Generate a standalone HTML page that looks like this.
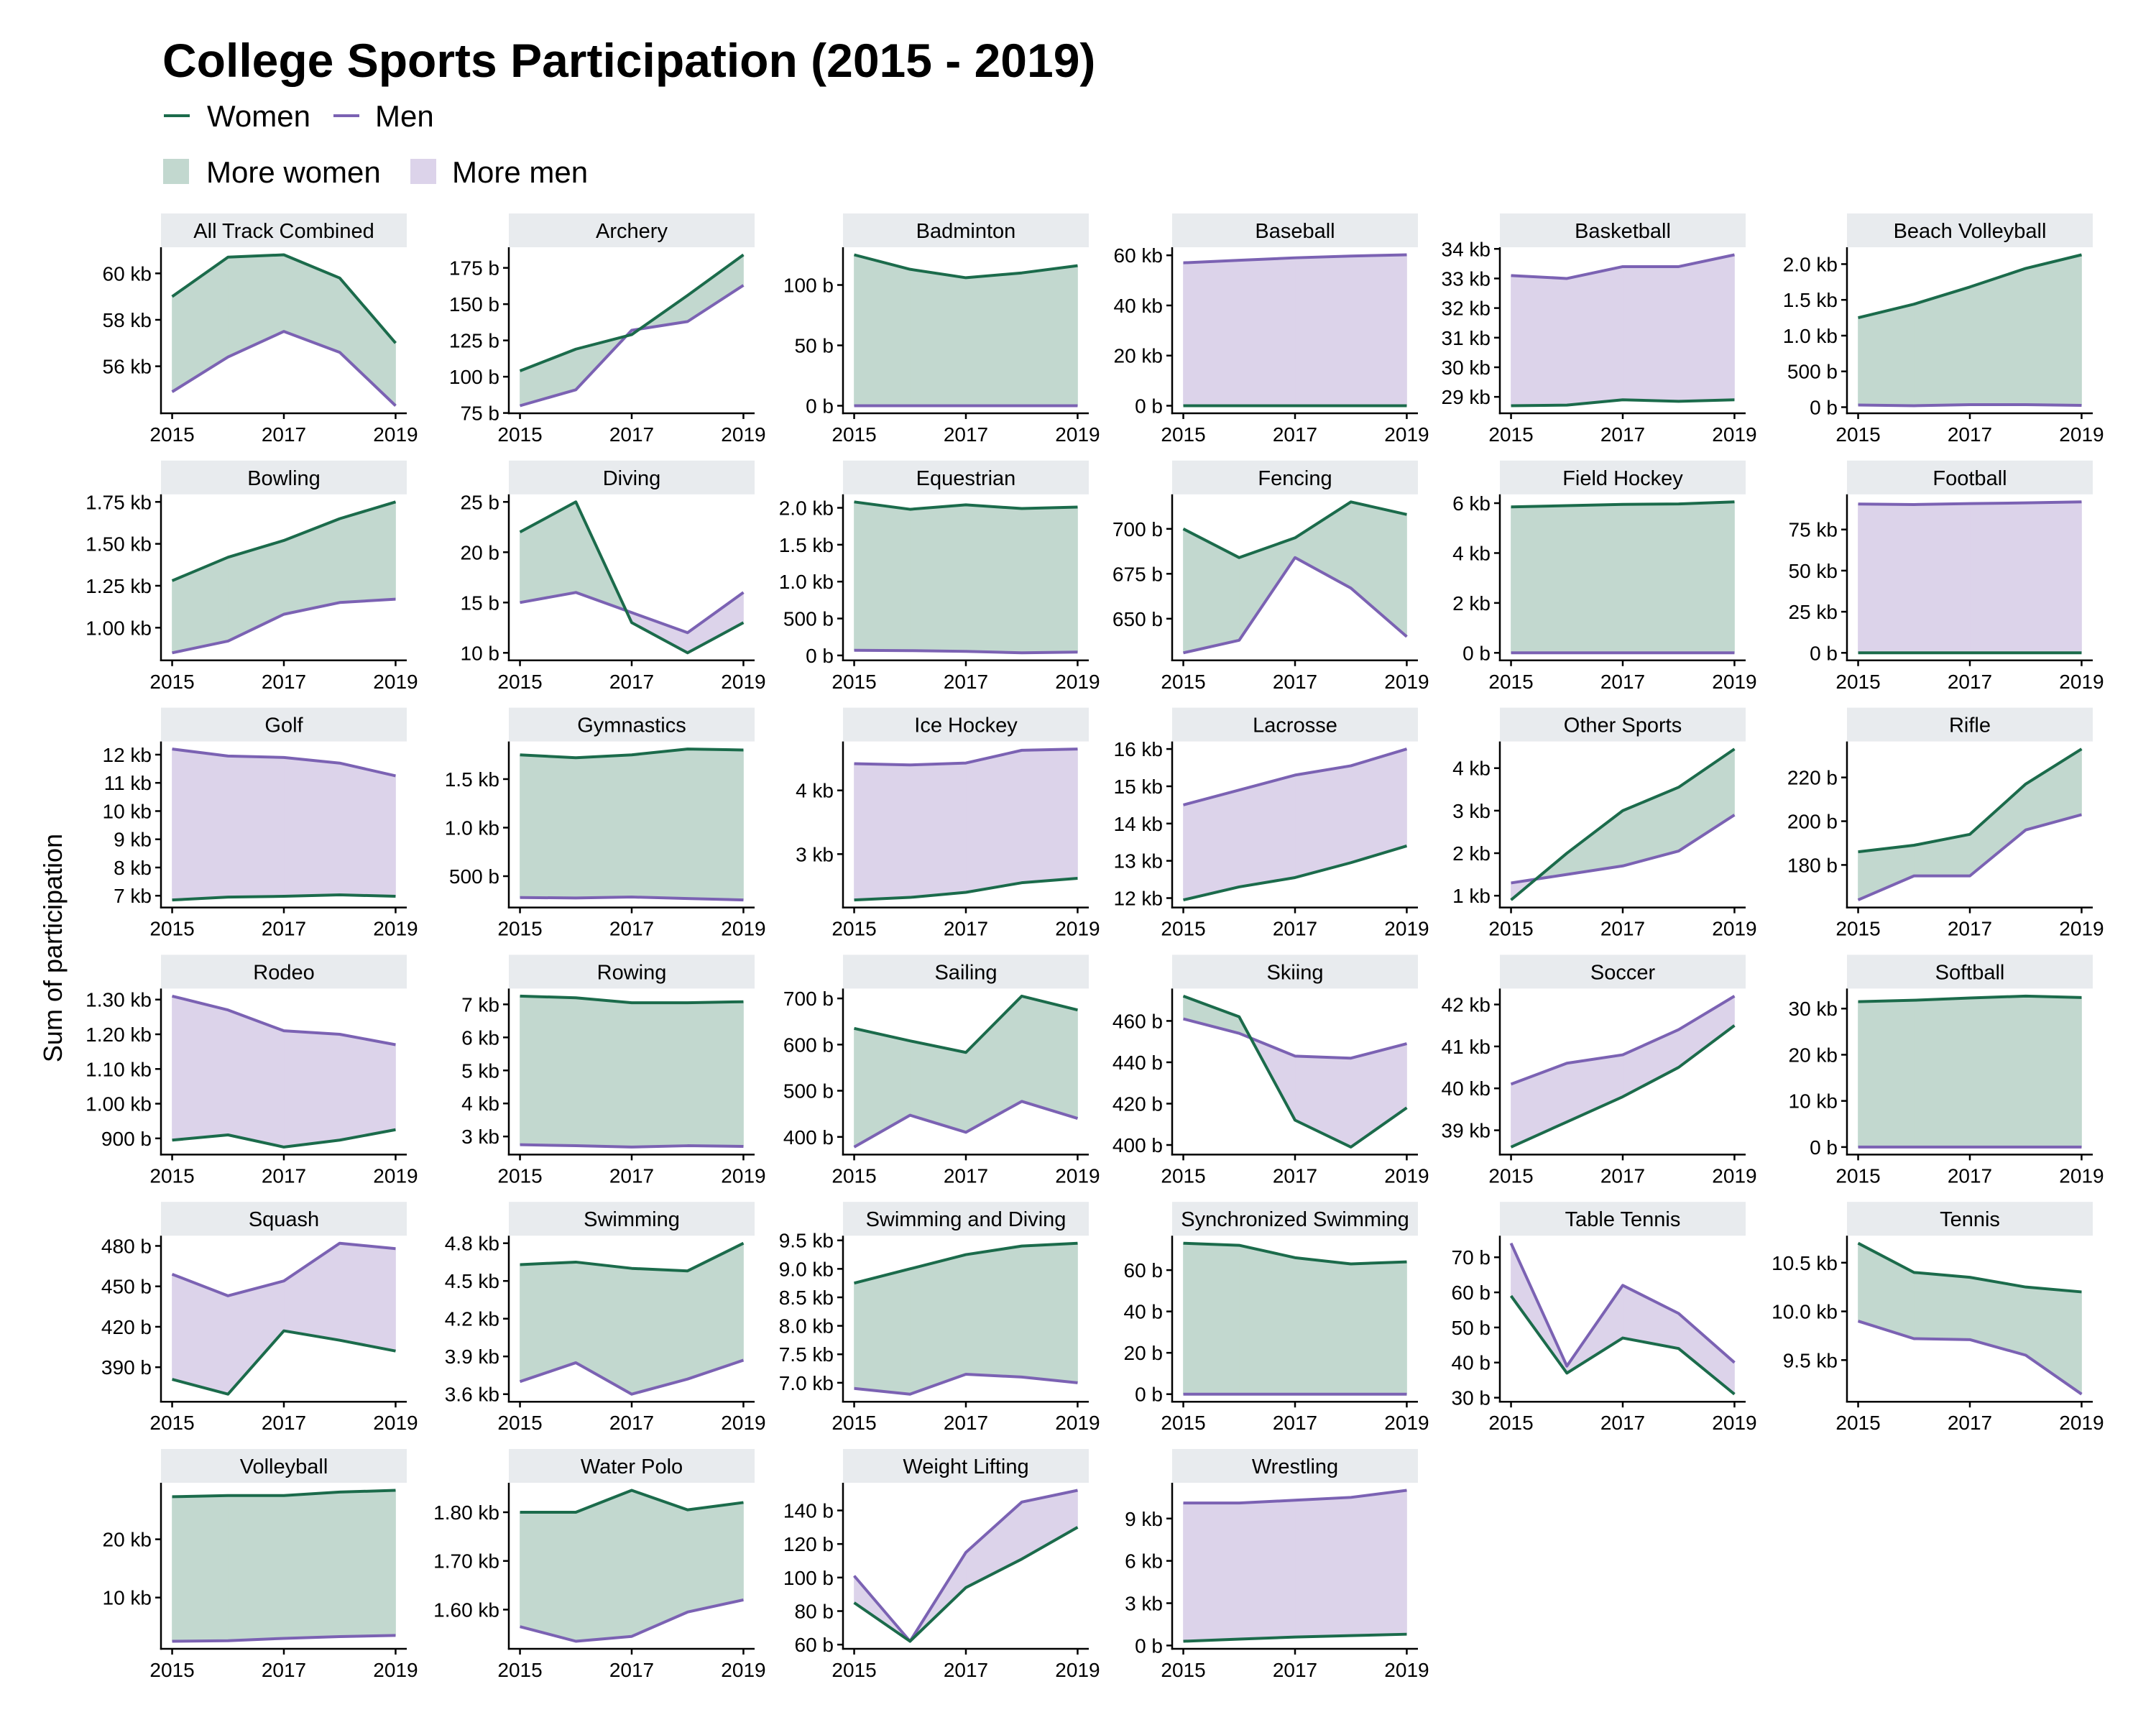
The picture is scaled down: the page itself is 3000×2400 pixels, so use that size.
<!DOCTYPE html>
<html><head><meta charset="utf-8"><style>
html,body{margin:0;padding:0;background:#fff;}
svg{display:block;font-family:"Liberation Sans",Arial,sans-serif;}
</style></head><body>
<svg id="chart" width="3000" height="2400" viewBox="0 0 3000 2400" xmlns="http://www.w3.org/2000/svg">
<rect x="0" y="0" width="3000" height="2400" fill="#fff"/>
<text x="226" y="107" font-size="66" font-weight="bold" fill="#000">College Sports Participation (2015 - 2019)</text>
<g>
<line x1="228" y1="161" x2="264" y2="161" stroke="#1b6b4b" stroke-width="4"/>
<text x="288" y="176" font-size="42">Women</text>
<line x1="464" y1="161" x2="500" y2="161" stroke="#7b62b3" stroke-width="4"/>
<text x="522" y="176" font-size="42">Men</text>
</g>
<g>
<rect x="227" y="221" width="36" height="35" fill="#c2d8cf"/>
<text x="287" y="254" font-size="42">More women</text>
<rect x="571" y="221" width="36" height="35" fill="#dcd3ea"/>
<text x="629" y="254" font-size="42">More men</text>
</g>
<text transform="translate(86,1319) rotate(-90)" text-anchor="middle" font-size="36">Sum of participation</text>
<g id="panels"></g>
</svg>
<script>
const years = [2015, 2016, 2017, 2018, 2019];
const sports = ["All Track Combined","Archery","Badminton","Baseball","Basketball","Beach Volleyball",
"Bowling","Diving","Equestrian","Fencing","Field Hockey","Football",
"Golf","Gymnastics","Ice Hockey","Lacrosse","Other Sports","Rifle",
"Rodeo","Rowing","Sailing","Skiing","Soccer","Softball",
"Squash","Swimming","Swimming and Diving","Synchronized Swimming","Table Tennis","Tennis",
"Volleyball","Water Polo","Weight Lifting","Wrestling"];
const women = [
[59000,60700,60800,59800,57000],[104,119,129,156,184],[125,113,106,110,116],[0,0,0,0,0],[28700,28720,28900,28850,28900],[1250,1440,1680,1940,2130],
[1280,1420,1520,1650,1750],[22,25,13,10,13],[2080,1980,2040,1990,2010],[700,684,695,715,708],[5850,5900,5950,5970,6050],[0,0,0,0,0],
[6850,6950,6980,7030,6980],[1750,1720,1750,1810,1800],[2280,2320,2400,2550,2620],[11950,12300,12550,12950,13400],[900,2000,3000,3550,4450],[186,189,194,217,233],
[895,910,875,895,925],[7250,7200,7050,7050,7080],[635,608,583,705,675],[472,462,412,399,418],[38600,39200,39800,40500,41500],[31500,31800,32300,32700,32400],
[381,370,417,410,402],[4630,4650,4600,4580,4800],[8750,9000,9250,9400,9450],[73,72,66,63,64],[59,37,47,44,31],[10700,10400,10350,10250,10200],
[27300,27500,27500,28100,28400],[1800,1800,1845,1805,1820],[85,62,94,111,130],[300,450,600,700,800]];
const men = [
[54900,56400,57500,56600,54300],[80,91,132,138,163],[0,0,0,0,0],[57000,58000,59000,59700,60200],[33100,33000,33400,33400,33800],[30,20,35,35,25],
[850,920,1080,1150,1170],[15,16,14,12,16],[70,65,55,35,45],[631,638,684,667,640],[0,0,0,0,0],[90500,90200,90800,91200,91800],
[12200,11950,11900,11700,11250],[280,275,285,270,255],[4420,4400,4430,4630,4650],[14500,14900,15300,15550,16000],[1300,1500,1700,2050,2900],[164,175,175,196,203],
[1310,1270,1210,1200,1170],[2750,2720,2680,2720,2700],[378,447,410,477,440],[461,454,443,442,449],[40100,40600,40800,41400,42200],[0,0,0,0,0],
[459,443,454,482,478],[3700,3850,3600,3720,3870],[6900,6800,7150,7100,7000],[0,0,0,0,0],[74,39,62,54,40],[9900,9720,9710,9550,9150],
[2500,2600,3000,3300,3500],[1565,1535,1545,1595,1620],[101,62,115,145,152],[10100,10100,10300,10500,11000]];
const tickValues = [
[56000,58000,60000],[75,100,125,150,175],[0,50,100],[0,20000,40000,60000],[29000,30000,31000,32000,33000,34000],[0,500,1000,1500,2000],
[1000,1250,1500,1750],[10,15,20,25],[0,500,1000,1500,2000],[650,675,700],[0,2000,4000,6000],[0,25000,50000,75000],
[7000,8000,9000,10000,11000,12000],[500,1000,1500],[3000,4000],[12000,13000,14000,15000,16000],[1000,2000,3000,4000],[180,200,220],
[900,1000,1100,1200,1300],[3000,4000,5000,6000,7000],[400,500,600,700],[400,420,440,460],[39000,40000,41000,42000],[0,10000,20000,30000],
[390,420,450,480],[3600,3900,4200,4500,4800],[7000,7500,8000,8500,9000,9500],[0,20,40,60],[30,40,50,60,70],[9500,10000,10500],
[10000,20000],[1600,1700,1800],[60,80,100,120,140],[0,3000,6000,9000]];
const tickLabels = [
["56 kb","58 kb","60 kb"],["75 b","100 b","125 b","150 b","175 b"],["0 b","50 b","100 b"],["0 b","20 kb","40 kb","60 kb"],["29 kb","30 kb","31 kb","32 kb","33 kb","34 kb"],["0 b","500 b","1.0 kb","1.5 kb","2.0 kb"],
["1.00 kb","1.25 kb","1.50 kb","1.75 kb"],["10 b","15 b","20 b","25 b"],["0 b","500 b","1.0 kb","1.5 kb","2.0 kb"],["650 b","675 b","700 b"],["0 b","2 kb","4 kb","6 kb"],["0 b","25 kb","50 kb","75 kb"],
["7 kb","8 kb","9 kb","10 kb","11 kb","12 kb"],["500 b","1.0 kb","1.5 kb"],["3 kb","4 kb"],["12 kb","13 kb","14 kb","15 kb","16 kb"],["1 kb","2 kb","3 kb","4 kb"],["180 b","200 b","220 b"],
["900 b","1.00 kb","1.10 kb","1.20 kb","1.30 kb"],["3 kb","4 kb","5 kb","6 kb","7 kb"],["400 b","500 b","600 b","700 b"],["400 b","420 b","440 b","460 b"],["39 kb","40 kb","41 kb","42 kb"],["0 b","10 kb","20 kb","30 kb"],
["390 b","420 b","450 b","480 b"],["3.6 kb","3.9 kb","4.2 kb","4.5 kb","4.8 kb"],["7.0 kb","7.5 kb","8.0 kb","8.5 kb","9.0 kb","9.5 kb"],["0 b","20 b","40 b","60 b"],["30 b","40 b","50 b","60 b","70 b"],["9.5 kb","10.0 kb","10.5 kb"],
["10 kb","20 kb"],["1.60 kb","1.70 kb","1.80 kb"],["60 b","80 b","100 b","120 b","140 b"],["0 b","3 kb","6 kb","9 kb"]];
const xTicks = [2015, 2017, 2019];

const NS = "http://www.w3.org/2000/svg";
const colX = [224, 708, 1173, 1631, 2087, 2570];
const PW = 342, STRIP = 47, PH = 231, ROW0 = 297, ROWP = 343.8;
const GREEN = "#1b6b4b", PURPLE = "#7b62b3", FG = "#c2d8cf", FP = "#dcd3ea";
const root = document.getElementById("panels");
function mk(tag, attrs, parent) {
  const e = document.createElementNS(NS, tag);
  for (const k in attrs) e.setAttribute(k, attrs[k]);
  parent.appendChild(e);
  return e;
}
function slug(s){return s.toLowerCase().replace(/[^a-z0-9]+/g,'-');}

sports.forEach((name, i) => {
  const r = Math.floor(i / 6), c = i % 6;
  const x0 = colX[c], st = ROW0 + r * ROWP, top = st + STRIP, bot = top + PH;
  const g = mk("g", {}, root);
  
  
  const w = women[i], m = men[i];
  const all = w.concat(m);
  let lo = Math.min(...all), hi = Math.max(...all);
  if (hi === lo) { hi += 1; }
  const pad = (hi - lo) * 0.05; lo -= pad; hi += pad;
  const xs = yr => x0 + PW * 0.05 / 1.1 * 1 + (yr - 2015) / 4 * (PW / 1.1);
  const ys = v => bot - (v - lo) / (hi - lo) * PH;
  // strip
  const sr = mk("rect", {x: x0, y: st, width: PW, height: STRIP, fill: "#e8ebee"}, g);
  
  
  const clipId = "clip" + i;
  const cp = mk("clipPath", {id: clipId}, g);
  mk("rect", {x: x0, y: st, width: PW, height: STRIP}, cp);
  const stx = mk("text", {x: x0 + PW / 2, y: st + 34, "text-anchor": "middle", "font-size": 29, "clip-path": "url(#" + clipId + ")"}, g);
  stx.textContent = name;
  
  
  // ribbons
  for (let k = 0; k < 4; k++) {
    const xa = xs(years[k]), xb = xs(years[k + 1]);
    const da = w[k] - m[k], db = w[k + 1] - m[k + 1];
    const pieces = [];
    if (da * db < 0) {
      const t = da / (da - db);
      const xi = xa + t * (xb - xa), vi = w[k] + t * (w[k + 1] - w[k]);
      pieces.push({pts: [[xa, ys(w[k])], [xi, ys(vi)], [xa, ys(m[k])]], col: da > 0 ? FG : FP});
      pieces.push({pts: [[xi, ys(vi)], [xb, ys(w[k + 1])], [xb, ys(m[k + 1])]], col: db > 0 ? FG : FP});
    } else {
      const col = (da + db) >= 0 ? FG : FP;
      pieces.push({pts: [[xa, ys(w[k])], [xb, ys(w[k + 1])], [xb, ys(m[k + 1])], [xa, ys(m[k])]], col});
    }
    pieces.forEach(p => {
      const pg = mk("polygon", {points: p.pts.map(q => q.join(",")).join(" "), fill: p.col, stroke: p.col, "stroke-width": 0.8}, g);
      
      
    });
  }
  // lines
  const ml = mk("polyline", {points: years.map((y, k) => xs(y) + "," + ys(m[k])).join(" "), fill: "none", stroke: PURPLE, "stroke-width": 4, "stroke-linejoin": "round"}, g);
  
  
  const wl = mk("polyline", {points: years.map((y, k) => xs(y) + "," + ys(w[k])).join(" "), fill: "none", stroke: GREEN, "stroke-width": 4, "stroke-linejoin": "round"}, g);
  
  
  // axes
  const ya = mk("line", {x1: x0, y1: top, x2: x0, y2: bot + 1.2, stroke: "#000", "stroke-width": 2.5}, g);
  
  
  const xa = mk("line", {x1: x0 - 1.2, y1: bot, x2: x0 + PW, y2: bot, stroke: "#000", "stroke-width": 2.5}, g);
  
  
  tickValues[i].forEach((v, k) => {
    const y = ys(v);
    const tk = mk("line", {x1: x0 - 8, y1: y, x2: x0, y2: y, stroke: "#000", "stroke-width": 2.5}, g);
    
    
    const tl = mk("text", {x: x0 - 13, y: y + 10, "text-anchor": "end", "font-size": 28}, g);
    tl.textContent = tickLabels[i][k];
    
    
  });
  xTicks.forEach(yr => {
    const x = xs(yr);
    const tk = mk("line", {x1: x, y1: bot, x2: x, y2: bot + 8, stroke: "#000", "stroke-width": 2.5}, g);
    
    
    const tl = mk("text", {x: x, y: bot + 39, "text-anchor": "middle", "font-size": 28}, g);
    tl.textContent = yr;
    
    
  });
});
</script>
</body></html>
